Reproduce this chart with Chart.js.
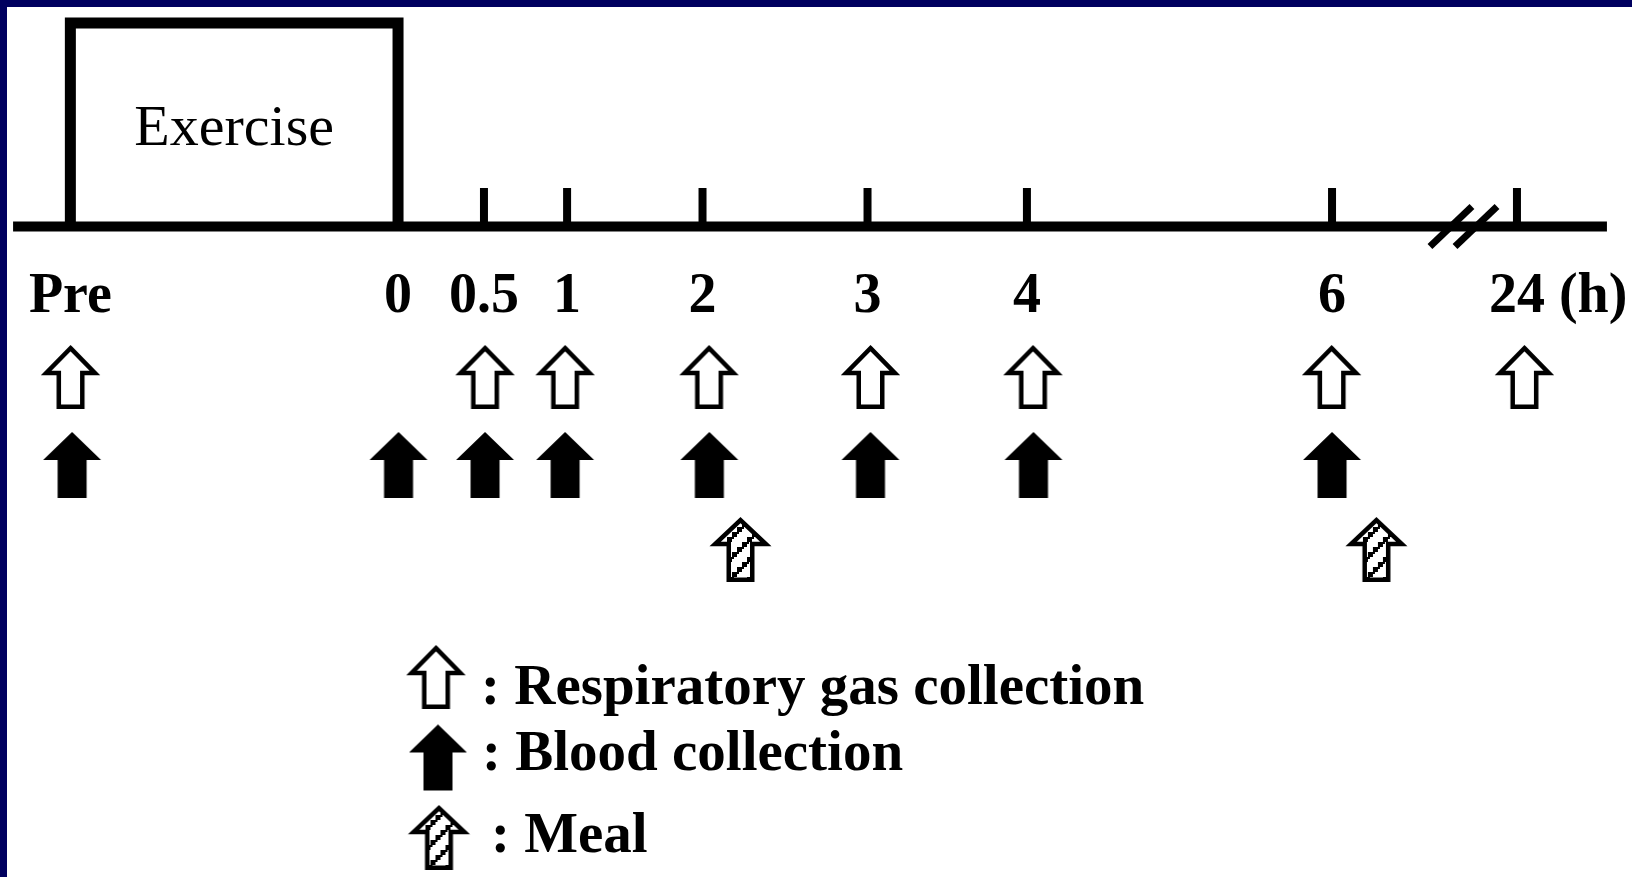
<!DOCTYPE html>
<html>
<head>
<meta charset="utf-8">
<script src="https://cdn.jsdelivr.net/npm/chart.js@4.4.1/dist/chart.umd.min.js"></script>
<style>
  html, body { margin: 0; padding: 0; background: #fff; overflow: hidden; }
  canvas { display: block; }
</style>
</head>
<body>
<canvas id="timeline" width="1632" height="877"></canvas>
<script>
// time points on the drawn (broken) axis, in "schematic hours"
const timeLabels = ['Pre', '0', '0.5', '1', '2', '3', '4', '6', '24'];
const timePos = [-2.105, 0, 0.552, 1.086, 1.956, 3.016, 4.04, 6.0, 7.188];

// sampling / events
const gasTimes = [-2.104, 0.559, 1.073, 1.998, 3.035, 4.079, 5.997, 7.236];
const bloodTimes = [-2.094, 0.003, 0.559, 1.073, 2.0, 3.035, 4.082, 6.0];
const mealTimes = [2.2, 6.285];

const legendTexts = [': Respiratory gas collection', ': Blood collection', ': Meal'];

// rows (y units, 0 = time axis)
const boxTop = 2.035;
const tickTop = 0.385;
const gasRow = -1.505;
const bloodRow = -2.385;
const mealRow = -3.23;

const xMin = -2.557, xMax = 7.927;
const yMin = -6.505, yMax = 2.265;
const axisStart = -2.473, axisEnd = 7.766;
const breakAt = [6.764, 6.925];

const SERIF = '"Liberation Serif", "Times New Roman", serif';

function makeArrow(kind, w, h, headH, shaftW) {
    const pad = 4;
    const c = document.createElement('canvas');
    c.width = w + pad * 2;
    c.height = h + pad * 2;
    const g = c.getContext('2d');
    g.translate(pad, pad);
    const lw = kind === 'filled' ? 0 : 4.5;
    const i = lw / 2;
    const cx = w / 2;
    const p = new Path2D();
    p.moveTo(cx, i * 1.4);
    p.lineTo(w - i * 1.4, headH);
    p.lineTo(cx + shaftW / 2 - i, headH);
    p.lineTo(cx + shaftW / 2 - i, h - i);
    p.lineTo(cx - shaftW / 2 + i, h - i);
    p.lineTo(cx - shaftW / 2 + i, headH);
    p.lineTo(i * 1.4, headH);
    p.closePath();

    if (kind === 'filled') {
        g.fillStyle = '#000';
        g.fill(p);
        return c;
    }
    g.fillStyle = '#fff';
    g.fill(p);
    if (kind === 'meal') {
        // stair-step hatching
        g.save();
        g.clip(p);
        g.fillStyle = '#000';
        for (let k = -h; k < w + h; k += 20) {
            for (let s = 0; s < h + 10; s += 5) {
                g.fillRect(k + s, h - s - 5, 5, 5);
                g.fillRect(k + s + 5, h - s - 5, 2, 2);
            }
        }
        g.restore();
    }
    g.strokeStyle = '#000';
    g.lineWidth = lw;
    g.lineJoin = 'miter';
    g.stroke(p);
    return c;
}

const gasArrow = makeArrow('open', 55, 64, 28, 28);
const bloodArrow = makeArrow('filled', 58, 66, 28, 29);
const mealArrow = makeArrow('meal', 57, 65, 27, 28);

const timelinePlugin = {
    id: 'timeline',
    beforeDraw(chart) {
        const ctx = chart.ctx;
        ctx.save();
        ctx.fillStyle = '#fff';
        ctx.fillRect(0, 0, chart.width, chart.height);
        ctx.fillStyle = '#00005f';
        ctx.fillRect(0, 0, chart.width, 7);
        ctx.fillRect(0, 0, 7, chart.height);
        ctx.restore();
    },
    afterDatasetsDraw(chart) {
        const ctx = chart.ctx;
        const xs = chart.scales.x, ys = chart.scales.y;
        const y0 = ys.getPixelForValue(0);
        ctx.save();

        // ticks (Pre and 0 are the box edges)
        ctx.strokeStyle = '#000';
        ctx.lineWidth = 8;
        ctx.lineCap = 'butt';
        for (let k = 2; k < timePos.length; k++) {
            const px = xs.getPixelForValue(timePos[k]);
            ctx.beginPath();
            ctx.moveTo(px, y0);
            ctx.lineTo(px, ys.getPixelForValue(tickTop));
            ctx.stroke();
        }

        // axis break
        ctx.lineWidth = 7;
        breakAt.forEach(b => {
            const px = xs.getPixelForValue(b);
            ctx.beginPath();
            ctx.moveTo(px - 21, y0 + 20);
            ctx.lineTo(px + 21, y0 - 20);
            ctx.stroke();
        });

        // tick labels
        ctx.fillStyle = '#000';
        ctx.font = 'bold 56px ' + SERIF;
        ctx.textBaseline = 'alphabetic';
        const labelY = ys.getPixelForValue(-0.855);
        timeLabels.forEach((lab, k) => {
            const px = xs.getPixelForValue(timePos[k]);
            if (k === timeLabels.length - 1) {
                ctx.textAlign = 'left';
                ctx.fillText(lab + ' (h)', px - ctx.measureText(lab).width / 2, labelY);
            } else {
                ctx.textAlign = 'center';
                ctx.fillText(lab, px, labelY);
            }
        });

        // box label
        ctx.font = '58px ' + SERIF;
        ctx.textAlign = 'center';
        ctx.fillText('Exercise', (xs.getPixelForValue(timePos[0]) + xs.getPixelForValue(timePos[1])) / 2,
            ys.getPixelForValue(0.815));

        // legend
        const items = [
            { img: gasArrow, ax: 436, ay: 677, tx: 481, ty: 704 },
            { img: bloodArrow, ax: 438, ay: 757.5, tx: 482, ty: 770 },
            { img: mealArrow, ax: 439, ay: 837.5, tx: 491, ty: 852 }
        ];
        ctx.font = 'bold 57px ' + SERIF;
        ctx.textAlign = 'left';
        items.forEach((it, k) => {
            ctx.drawImage(it.img, it.ax - it.img.width / 2, it.ay - it.img.height / 2);
            ctx.fillText(legendTexts[k], it.tx, it.ty);
        });
        ctx.restore();
    }
};

const exerciseBox = [
    { x: timePos[0], y: 0 },
    { x: timePos[0], y: boxTop },
    { x: timePos[1], y: boxTop },
    { x: timePos[1], y: 0 }
];

new Chart(document.getElementById('timeline').getContext('2d'), {
    type: 'scatter',
    data: {
        datasets: [
            {
                label: 'Exercise',
                type: 'line',
                data: exerciseBox,
                borderColor: '#000',
                borderWidth: 11,
                borderJoinStyle: 'miter',
                pointRadius: 0,
                fill: false
            },
            {
                label: 'Time axis',
                type: 'line',
                data: [{ x: axisStart, y: 0 }, { x: axisEnd, y: 0 }],
                borderColor: '#000',
                borderWidth: 10,
                pointRadius: 0,
                fill: false
            },
            {
                label: 'Respiratory gas collection',
                data: gasTimes.map(t => ({ x: t, y: gasRow })),
                pointStyle: gasArrow,
                pointRadius: 30
            },
            {
                label: 'Blood collection',
                data: bloodTimes.map(t => ({ x: t, y: bloodRow })),
                pointStyle: bloodArrow,
                pointRadius: 30
            },
            {
                label: 'Meal',
                data: mealTimes.map(t => ({ x: t, y: mealRow })),
                pointStyle: mealArrow,
                pointRadius: 30
            }
        ]
    },
    options: {
        responsive: false,
        animation: false,
        events: [],
        layout: { padding: 0, autoPadding: false },
        scales: {
            x: { type: 'linear', min: xMin, max: xMax, display: false },
            y: { type: 'linear', min: yMin, max: yMax, display: false }
        },
        plugins: {
            legend: { display: false },
            tooltip: { enabled: false }
        }
    },
    plugins: [timelinePlugin]
});
</script>
</body>
</html>
